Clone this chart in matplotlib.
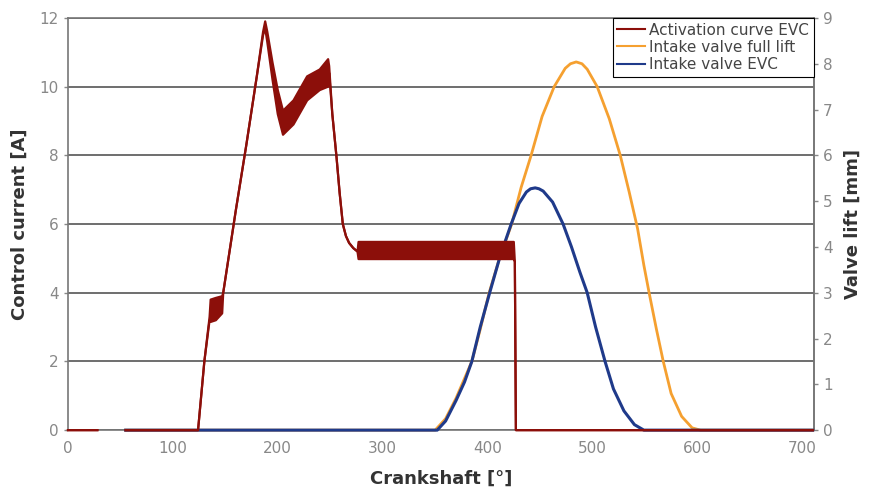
import numpy as np
import matplotlib.pyplot as plt

plt.rcParams['font.family'] = ['Liberation Sans Narrow', 'DejaVu Sans']

# Activation curve EVC: crank angle, lower and upper envelope of the current [A]
act_deg = [0, 28, np.nan, 55, 124, 130, 135, 136, 141, 147, 148, 160, 170, 180, 186,
           188, 190, 195, 200, 205, 215, 228, 240, 248, 249, 252, 256, 259, 262, 265,
           268, 272, 276, 277, 424, 425, 426, 427, 710]
act_lo = [0, 0, np.nan, 0, 0, 2.0, 3.2, 3.15, 3.2, 3.4, 4.0, 6.4, 8.3, 10.3, 11.5,
          11.7, 11.3, 10.2, 9.2, 8.6, 8.9, 9.6, 9.9, 10.0, 10.4, 9.2, 7.95, 6.9, 6.0, 5.65,
          5.45, 5.3, 5.2, 4.98, 4.98, 4.98, 4.9, 0, 0]
act_hi = [0, 0, np.nan, 0, 0, 2.0, 3.3, 3.8, 3.85, 3.9, 4.0, 6.4, 8.3, 10.3, 11.6,
          11.9, 11.6, 10.7, 9.9, 9.3, 9.6, 10.3, 10.5, 10.8, 10.6, 9.2, 7.95, 6.9, 6.0, 5.65,
          5.45, 5.3, 5.2, 5.48, 5.48, 5.48, 4.9, 0, 0]

# Intake valve full lift [mm]
full_deg = [55, 350, 360, 370, 385, 393, 401.5, 412, 423, 432, 441.5, 452, 463.5, 474,
            479, 484.5, 490, 495, 504.5, 516, 526.5, 535, 543, 549, 554, 561, 567.5,
            575, 585, 595, 603, 710]
full_mm = [0, 0, 0.25, 0.7, 1.5, 2.2, 3.0, 3.8, 4.5, 5.3, 6.0, 6.85, 7.5, 7.9,
           8.0, 8.04, 8.0, 7.88, 7.5, 6.8, 6.0, 5.2, 4.4, 3.6, 3.0, 2.2, 1.5,
           0.8, 0.3, 0.05, 0, 0]

# Intake valve EVC [mm]
evc_deg = [55, 352, 360, 370, 378, 385, 393, 402, 412, 422.5, 430, 437, 441, 445.4,
           449, 453, 462, 472, 480, 488, 495, 503, 512, 520, 530, 540, 549, 710]
evc_mm = [0, 0, 0.2, 0.65, 1.05, 1.5, 2.25, 3.0, 3.8, 4.5, 4.95, 5.2, 5.27, 5.29,
          5.27, 5.22, 4.98, 4.5, 4.0, 3.45, 3.0, 2.25, 1.5, 0.9, 0.42, 0.12, 0, 0]

red = '#8C0F0A'
orange = '#F5A030'
blue = '#1F3A8A'

# left axis 0-12 A against right axis 0-9 mm
def amp_to_mm(a):
    return np.asarray(a) * 9 / 12

def mm_to_amp(m):
    return np.asarray(m) * 12 / 9

fig, ax = plt.subplots(figsize=(8.76, 4.99), dpi=100)
fig.subplots_adjust(left=0.0776, right=0.929, top=0.964, bottom=0.138)

l_full, = ax.plot(full_deg, mm_to_amp(full_mm), color=orange, lw=2, zorder=2, clip_on=False)
l_evc, = ax.plot(evc_deg, mm_to_amp(evc_mm), color=blue, lw=2.2, zorder=3, clip_on=False)

ax.fill_between(act_deg, act_lo, act_hi, color=red, lw=0, zorder=4)
ax.plot(act_deg, act_lo, color=red, lw=1.6, zorder=4, clip_on=False)
l_act, = ax.plot(act_deg, act_hi, color=red, lw=1.6, zorder=4, clip_on=False)

ax.set_xlim(0, 711)
ax.set_ylim(0, 12)
ax.set_xticks(range(0, 701, 100))
ax.set_yticks(range(0, 13, 2))

sec = ax.secondary_yaxis('right', functions=(amp_to_mm, mm_to_amp))
sec.set_yticks(range(0, 10))

ax.grid(axis='y', color='#555555', lw=1.2, zorder=1)
ax.set_axisbelow(True)
for s in ax.spines.values():
    s.set_color('#777777')
    s.set_linewidth(1.2)
    s.set_zorder(1.5)
sec.spines['right'].set_color('#777777')
sec.spines['right'].set_linewidth(1.2)
for a in (ax, sec):
    a.tick_params(colors='#888888', labelsize=11, length=3, width=1)
ax.tick_params(axis='x', length=0, pad=8)

ax.set_xlabel('Crankshaft [°]', fontsize=13, fontweight='bold', color='#333333', labelpad=10)
ax.set_ylabel('Control current [A]', fontsize=13, fontweight='bold', color='#333333', labelpad=8)
sec.set_ylabel('Valve lift [mm]', fontsize=13, fontweight='bold', color='#333333', labelpad=8)

leg = ax.legend([l_act, l_full, l_evc],
                ['Activation curve EVC', 'Intake valve full lift', 'Intake valve EVC'],
                loc='upper right', borderaxespad=0, fontsize=11, fancybox=False,
                framealpha=1, edgecolor='black', handlelength=1.8, handletextpad=0.3,
                labelspacing=0.15, borderpad=0.3)
leg.set_zorder(5)
leg.get_frame().set_linewidth(0.8)
for h in leg.get_lines():
    h.set_linewidth(1.5)
for t in leg.get_texts():
    t.set_color('#444444')

plt.savefig('out.png')
